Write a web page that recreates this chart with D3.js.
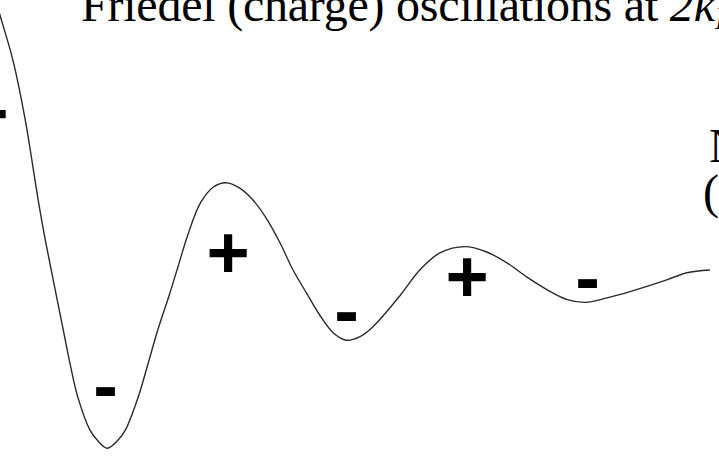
<!DOCTYPE html>
<html>
<head>
<meta charset="utf-8">
<script src="https://cdn.jsdelivr.net/npm/d3@7"></script>
<style>
  html, body { margin: 0; padding: 0; background: #fff; }
  svg { display: block; }
</style>
</head>
<body>
<script>
// Induced charge density around an impurity (arbitrary units).
// r: distance from the impurity, n: density deviation from the mean.
const distance = [-0.06, 0, 0.18, 0.35, 0.53, 0.63, 0.88, 0.97, 1.08, 1.25, 1.35, 1.49,
  1.64, 1.74, 1.92, 2.06, 2.19, 2.35, 2.5, 2.6, 2.78, 2.96, 3.14, 3.33, 3.51, 3.71,
  3.89, 4.07, 4.26, 4.44, 4.63, 4.81, 5.0, 5.18, 5.56, 5.83, 6.11, 6.46, 6.76,
  7.04, 7.32, 7.6, 7.88, 8.13, 8.43, 8.75, 9.26, 9.54, 9.86];
const density = [3.0, 2.83, 2.33, 1.67, 0.78, 0.33, -0.67, -1.03, -1.41, -1.78, -1.89, -1.98,
  -1.89, -1.78, -1.41, -1.03, -0.67, -0.28, 0.11, 0.37, 0.74, 0.92, 0.97, 0.91, 0.78, 0.56,
  0.3, 0.0, -0.26, -0.5, -0.7, -0.78, -0.74, -0.63, -0.28, 0.0, 0.19, 0.26, 0.2,
  0.08, -0.08, -0.22, -0.33, -0.36, -0.31, -0.24, -0.11, -0.03, 0.0];

// Sign of the net charge in each lobe, anchored at the lobe centre.
const signText = ["+", "-", "+", "-", "+", "-"];
const signR = [-0.18, 1.465, 3.167, 4.813, 6.486, 8.16];
const signN = [1.76, -1.356, 0.211, -0.533, -0.056, -0.161];

const titleText = "Friedel (charge) oscillations at ";
const sideLines = ["N", "("];

const W = 719, H = 457;
const svg = d3.select("body").append("svg").attr("width", W).attr("height", H);

const x = d3.scaleLinear().domain([0, 10]).range([0, 720]);
const y = d3.scaleLinear().domain([-3, 3]).range([540, 0]);

const pts = distance.map((r, i) => [r, density[i]]);
const line = d3.line()
  .x(d => x(d[0]))
  .y(d => y(d[1]))
  .curve(d3.curveCatmullRom.alpha(0.5));

svg.append("path")
  .datum(pts)
  .attr("d", line)
  .attr("fill", "none")
  .attr("stroke", "#2a2a2a")
  .attr("stroke-width", 1.4);

// Charge signs
const signSize = 74;
svg.selectAll("text.sign")
  .data(signText.map((s, i) => ({ s, r: signR[i], n: signN[i] })))
  .join("text")
  .attr("class", "sign")
  .attr("x", d => x(d.r))
  .attr("y", d => y(d.n) + (d.s === "+" ? 0.37 : 0.25) * signSize)
  .attr("text-anchor", "middle")
  .attr("font-family", "'Liberation Sans', Arial, sans-serif")
  .attr("font-weight", "bold")
  .attr("font-size", signSize)
  .attr("fill", "#000")
  .text(d => d.s);

// Title
const title = svg.append("text")
  .attr("x", 81)
  .attr("y", 21)
  .attr("font-family", "'Liberation Serif', 'Times New Roman', serif")
  .attr("font-size", 48)
  .attr("fill", "#000");
title.append("tspan").attr("textLength", 589).attr("lengthAdjust", "spacing").text(titleText);
title.append("tspan").attr("font-style", "italic").text("2k");
title.append("tspan").attr("font-style", "italic").attr("font-size", 32).attr("dy", 8).text("F");

// Side caption (continues beyond the right edge)
svg.selectAll("text.side")
  .data(sideLines)
  .join("text")
  .attr("class", "side")
  .attr("x", (d, i) => i === 0 ? 709 : 703)
  .attr("y", (d, i) => 162 + i * 46)
  .attr("font-family", "'Liberation Serif', 'Times New Roman', serif")
  .attr("font-size", 48)
  .attr("fill", "#000")
  .text(d => d);
</script>
</body>
</html>
